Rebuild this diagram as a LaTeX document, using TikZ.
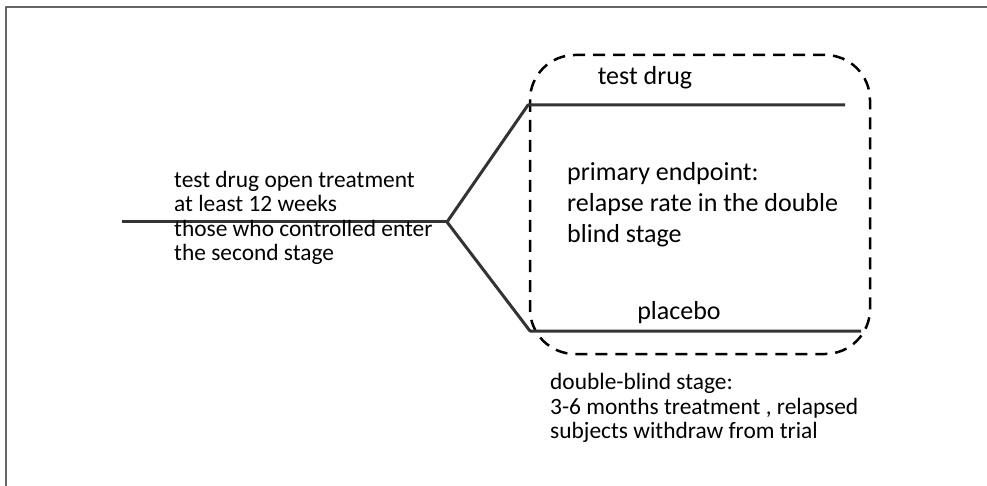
\documentclass[tikz,border=0pt]{standalone}
\usepackage{fontspec}
\setmainfont{Carlito}
\begin{document}
\begin{tikzpicture}[x=1pt, y=-1pt, line join=round]
    \tikzset{
        arm/.style={line width=3pt, black!80},
        stagebox/.style={dashed, dash pattern=on 12pt off 8pt, line width=2.5pt, rounded corners=45pt},
        small/.style={inner sep=0pt, align=left, font=\fontsize{23.4}{24.4}\selectfont},
        big/.style={inner sep=0pt, align=left, font=\fontsize{26}{31}\selectfont},
    }
    \useasboundingbox (0,0) rectangle (987,486);
    \draw[black!60, line width=2pt] (6,486) -- (6,7) -- (987,7);

    \coordinate (start) at (122,222);
    \coordinate (split) at (447,222);
    \coordinate (drugL) at (528,105);
    \coordinate (drugR) at (845,105);
    \coordinate (placL) at (530,331);
    \coordinate (placR) at (861,331);

    \draw[stagebox] (530,55) rectangle (870,354);

    \draw[arm] (start) -- (split);
    \draw[arm] (split) -- (drugL) -- (drugR);
    \draw[arm] (split) -- (placL) -- (placR);

    \node[small, anchor=west] (open) at (174,218)
        {test drug open treatment\\at least 12 weeks\\those who controlled enter\\the second stage};
    \node[big] (drug) at (645,78) {test drug};
    \node[big] (plac) at (679,313) {placebo};
    \node[big, anchor=west] (endp) at (567,205)
        {primary endpoint:\\relapse rate in the double\\blind stage};
    \node[small, anchor=west] (blind) at (550,408)
        {double-blind stage:\\3-6 months treatment , relapsed\\subjects withdraw from trial};
\end{tikzpicture}
\end{document}
